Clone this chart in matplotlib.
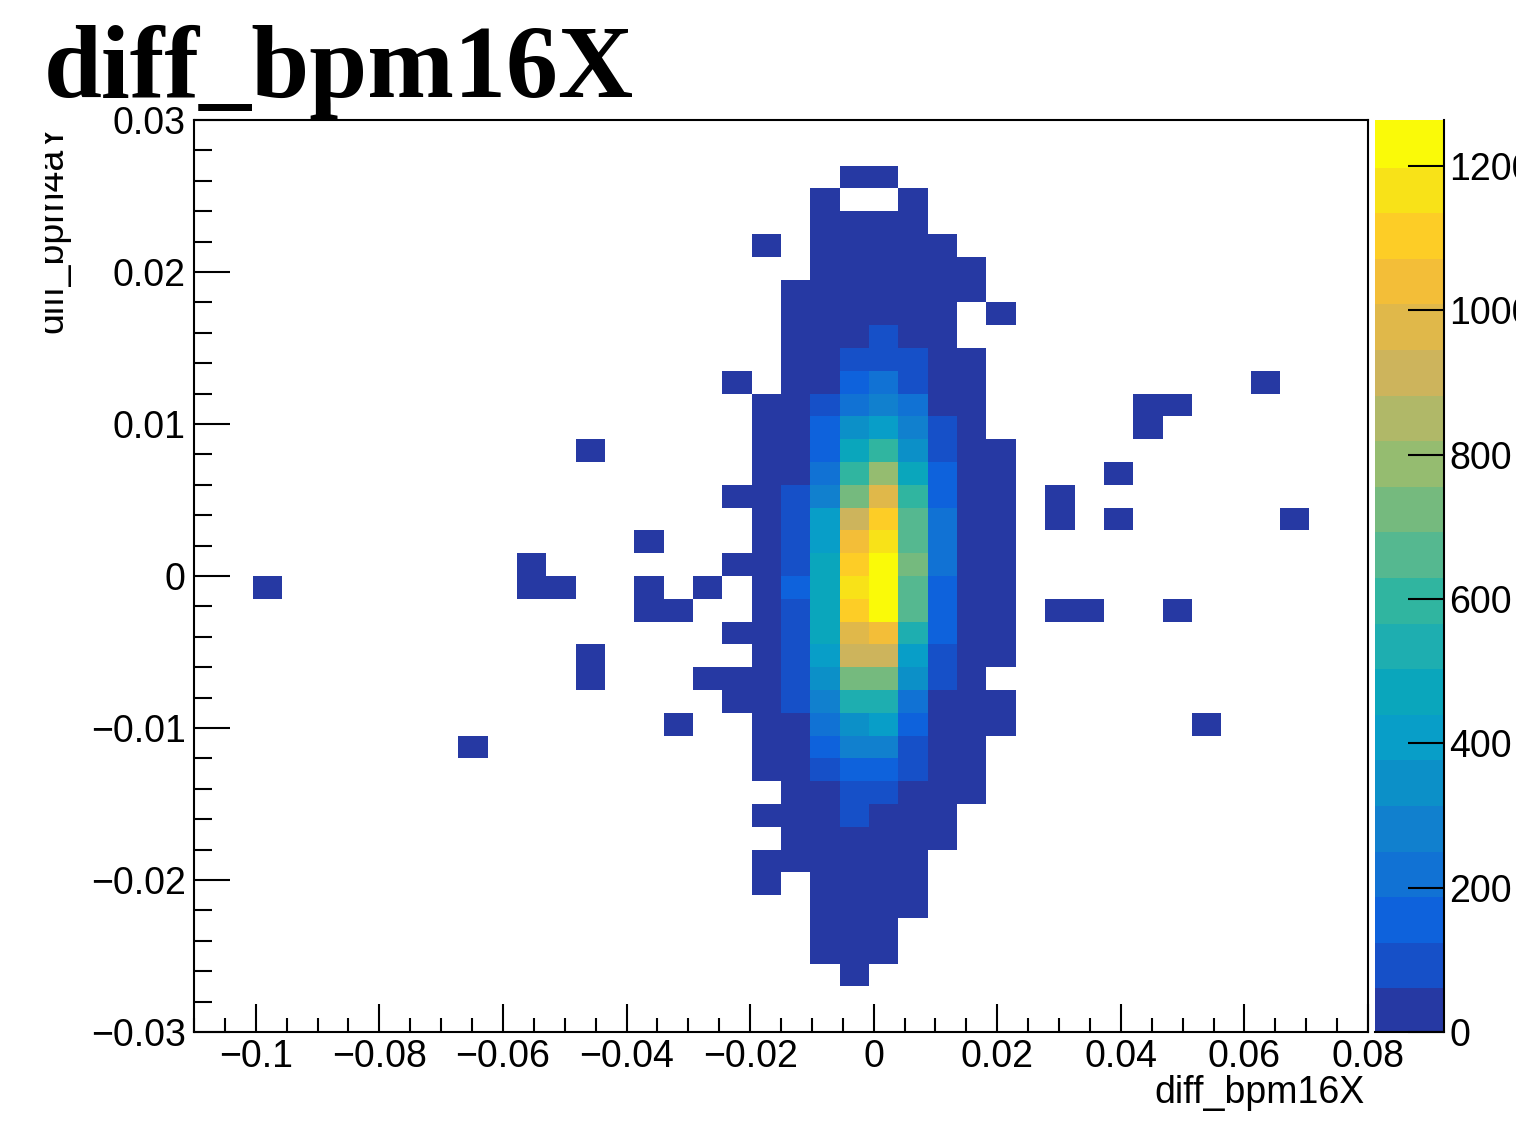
import numpy as np
import matplotlib
matplotlib.use("Agg")
import matplotlib.pyplot as plt
from matplotlib.colors import ListedColormap, BoundaryNorm
from matplotlib.ticker import MultipleLocator, FuncFormatter
from matplotlib.transforms import Bbox

W, H = 1523, 1128
L = 15  # lowest populated colour band

x_range = (-0.11, 0.08)
y_range = (-0.03, 0.03)
n_bins = 40
z_max = 1264

title_text = "diff_bpm16X"
x_label = "diff_bpm16X"
y_label = "diff_bpm4aY"
z_ticks = [0, 200, 400, 600, 800, 1000, 1200]

band_colors = ["#2639A3", "#1650C8", "#0E62DC", "#1172D4", "#1180CE",
               "#0C90C8", "#089EC8", "#0AA6BC", "#1EAEB0", "#30B5A0",
               "#55B890", "#75BA7E", "#95BC70", "#B0B868", "#CDB45C",
               "#E0B84A", "#F3BE38", "#FDCD26", "#F8E218", "#FAFA08"]

# (row from the top, first column, counts)
segments = [
    (2, 22, [L, L]),
    (3, 21, [L]), (3, 24, [L]),
    (4, 21, [L] * 4),
    (5, 19, [L]), (5, 21, [L] * 5),
    (6, 21, [L] * 6),
    (7, 20, [L] * 7),
    (8, 20, [L] * 6), (8, 27, [L]),
    (9, 20, [L, L, L, 95, L, L]),
    (10, 20, [L, L, 95, 95, 95, L, L]),
    (11, 18, [L]), (11, 20, [L, L, 160, 220, 95, L, L]), (11, 36, [L]),
    (12, 19, [L, L, 95, 220, 285, 220, L, L]), (12, 32, [L, L]),
    (13, 19, [L, L, 160, 350, 410, 285, 95, L]), (13, 32, [L]),
    (14, 13, [L]), (14, 19, [L, L, 160, 475, 600, 350, 95, L, L]),
    (15, 19, [L, L, 220, 600, 790, 475, 160, L, L]), (15, 31, [L]),
    (16, 18, [L, L, 95, 285, 725, 980, 600, 160, L, L]), (16, 29, [L]),
    (17, 19, [L, 95, 410, 915, 1105, 665, 220, L, L]), (17, 29, [L]), (17, 31, [L]), (17, 37, [L]),
    (18, 15, [L]), (18, 19, [L, 95, 410, 1045, 1170, 665, 220, L, L]),
    (19, 11, [L]), (19, 18, [L, L, 95, 475, 1105, 1240, 725, 220, L, L]),
    (20, 2, [L]), (20, 11, [L, L]), (20, 15, [L]), (20, 17, [L]),
    (20, 19, [L, 160, 475, 1170, 1240, 665, 160, L, L]),
    (21, 15, [L, L]), (21, 19, [L, 95, 475, 1105, 1240, 665, 160, L, L]), (21, 29, [L, L]), (21, 33, [L]),
    (22, 18, [L, L, 95, 475, 980, 1045, 540, 160, L, L]),
    (23, 13, [L]), (23, 19, [L, 95, 410, 915, 915, 410, 95, L, L]),
    (24, 13, [L]), (24, 17, [L, L, L, 95, 350, 725, 725, 350, 95, L]),
    (25, 18, [L, L, 95, 285, 540, 540, 220, L, L, L]),
    (26, 16, [L]), (26, 19, [L, L, 220, 350, 410, 160, L, L, L]), (26, 34, [L]),
    (27, 9, [L]), (27, 19, [L, L, 160, 285, 285, 95, L, L]),
    (28, 19, [L, L, 95, 160, 160, 95, L, L]),
    (29, 20, [L, L, 95, 95, L, L, L]),
    (30, 19, [L, L, L, 95, L, L, L]),
    (31, 20, [L] * 6),
    (32, 19, [L] * 6),
    (33, 19, [L]), (33, 21, [L] * 4),
    (34, 21, [L] * 4),
    (35, 21, [L] * 3),
    (36, 21, [L] * 3),
    (37, 22, [L]),
]

counts = np.zeros((n_bins, n_bins))
for row, col, vals in segments:
    counts[n_bins - 1 - row, col:col + len(vals)] = vals

x_edges = np.linspace(*x_range, n_bins + 1)
y_edges = np.linspace(*y_range, n_bins + 1)

plt.rcParams["font.family"] = ["Liberation Sans", "DejaVu Sans"]
fs = 27
lw = 1.5
fig = plt.figure(figsize=(W / 100, H / 100), dpi=100)


def box(x0, y0, x1, y1):
    return [x0 / W, 1 - y1 / H, (x1 - x0) / W, (y1 - y0) / H]


fig.text(44 / W, 1 - 97 / H, title_text, family="Liberation Serif", weight="bold",
         fontsize=75, ha="left", va="baseline", zorder=0)

ax = fig.add_axes(box(194, 120, 1368, 1032), zorder=2)
cmap = ListedColormap(band_colors)
norm = BoundaryNorm(np.linspace(0, z_max, len(band_colors) + 1), cmap.N)
mesh = ax.pcolormesh(x_edges, y_edges, np.ma.masked_equal(counts, 0), cmap=cmap, norm=norm)
ax.set_xlim(*x_range)
ax.set_ylim(*y_range)


def fmt(v, _):
    s = f"{v:.2f}".rstrip("0").rstrip(".")
    if s in ("-0", "0"):
        return "0"
    return s.replace("-", "\u2212")


ax.xaxis.set_major_locator(MultipleLocator(0.02))
ax.xaxis.set_minor_locator(MultipleLocator(0.005))
ax.yaxis.set_major_locator(MultipleLocator(0.01))
ax.yaxis.set_minor_locator(MultipleLocator(0.002))
ax.xaxis.set_major_formatter(FuncFormatter(fmt))
ax.yaxis.set_major_formatter(FuncFormatter(fmt))
ax.tick_params(axis="x", which="major", direction="in", length=20, width=lw, labelsize=fs, pad=5)
ax.tick_params(axis="x", which="minor", direction="in", length=10, width=lw)
ax.tick_params(axis="y", which="major", direction="in", length=26, width=lw, labelsize=fs, pad=6)
ax.tick_params(axis="y", which="minor", direction="in", length=13, width=lw)
for s in ax.spines.values():
    s.set_linewidth(lw)

fig.text(1365 / W, 1 - 1093 / H, x_label, fontsize=fs, ha="right", va="center")
yl = fig.text(52 / W, 1 - 123 / H, y_label, fontsize=fs, rotation=90, ha="center", va="top")
yl.set_clip_on(True)
yl.set_clip_box(Bbox([[45, 0], [W, H - 129]]))

cax = fig.add_axes(box(1375, 120, 1444, 1032))
cb = fig.colorbar(mesh, cax=cax, spacing="proportional", ticks=z_ticks)
cb.outline.set_visible(False)
cb.solids.set_edgecolor("face")
for side in ("left", "top"):
    cax.spines[side].set_visible(False)
cax.spines["right"].set_visible(True)
cax.spines["bottom"].set_visible(True)
cax.spines["right"].set_linewidth(lw)
cax.spines["bottom"].set_linewidth(lw)
cax.tick_params(axis="y", which="both", right=True, direction="in", length=26, width=lw,
                labelsize=fs, pad=4)
cax.minorticks_off()
fig.canvas.draw()
for t in cax.get_yticklabels():
    t.set_clip_on(True)
    t.set_clip_box(Bbox([[0, 0], [1516, H]]))

fig.savefig("out.png", dpi=100)
